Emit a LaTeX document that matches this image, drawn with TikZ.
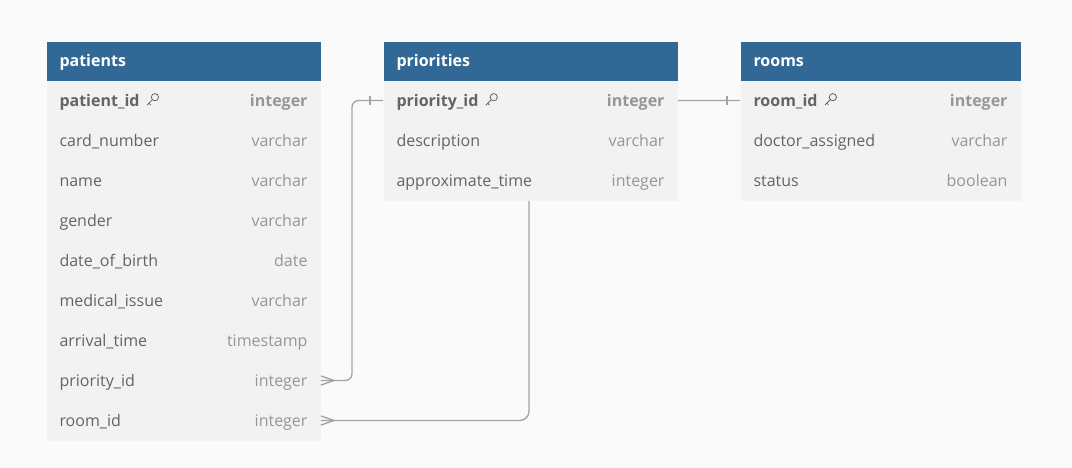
\documentclass[tikz,border=0pt]{standalone}
\usepackage{fontspec}
\setmainfont{Open Sans}
\usetikzlibrary{calc}

\definecolor{hdrblue}{RGB}{50,104,150}
\definecolor{rowgray}{RGB}{242,242,242}
\definecolor{pagegray}{RGB}{250,250,250}
\definecolor{namegray}{RGB}{100,100,100}
\definecolor{typegray}{RGB}{150,150,150}
\definecolor{linkgray}{RGB}{162,162,170}

\tikzset{every picture/.style={line width=0.75pt},
  tblhead/.style={fill=hdrblue, anchor=north west, inner sep=0, minimum height=29.25pt},
  tblrow/.style={fill=rowgray, anchor=north west, inner sep=0, minimum height=30pt},
  hdrtext/.style={anchor=base west, inner sep=0, text=white, font=\bfseries\fontsize{12}{14}\selectfont},
  fname/.style={anchor=base west, inner sep=0, text=namegray, font=\fontsize{12}{14}\selectfont},
  ftype/.style={anchor=base east, inner sep=0, text=typegray, font=\fontsize{12}{14}\selectfont},
  pkname/.style={fname, font=\bfseries\fontsize{12}{14}\selectfont},
  pktype/.style={ftype, font=\bfseries\fontsize{12}{14}\selectfont},
  link/.style={draw=linkgray, line width=1pt},
  keyicon/.pic={\draw[namegray, line width=0.6pt, line cap=round] (2.8,2.8) circle (3.6) (0.3,0.3) -- (-5,-5) (-3.2,-3.2) -- (-1.6,-4.8);}}

\begin{document}
\begin{tikzpicture}[x=0.75pt,y=0.75pt,yscale=-1,xscale=1]
\useasboundingbox[fill=pagegray] (0,0) rectangle (1072,468);

%Table: patients
\node[tblhead, minimum width=205.5pt] (patients) at (46,41) {};
\node[hdrtext] (patients-t) at ($(patients.west)+(13,5.5)$) {patients};
\node[tblrow, minimum width=205.5pt] (pat-1) at (46,80) {};
\node[pkname] (pat-1-n) at ($(pat-1.west)+(13,5.5)$) {patient\_id};
\pic at ($(pat-1-n.base east)+(12,-6)$) {keyicon};
\node[pktype] (pat-1-t) at ($(pat-1.east)+(-13,5.5)$) {integer};
\foreach \n/\t [count=\i from 2] in {card\_number/varchar, name/varchar, gender/varchar, date\_of\_birth/date, medical\_issue/varchar, arrival\_time/timestamp, priority\_id/integer, room\_id/integer}{
  \node[tblrow, minimum width=205.5pt] (pat-\i) at (46,{40+40*\i}) {};
  \node[fname] (pat-\i-n) at ($(pat-\i.west)+(13,5.5)$) {\n};
  \node[ftype] (pat-\i-t) at ($(pat-\i.east)+(-13,5.5)$) {\t};
}

%Table: rooms
\node[tblhead, minimum width=210pt] (rooms) at (740,41) {};
\node[hdrtext] (rooms-t) at ($(rooms.west)+(13,5.5)$) {rooms};
\node[tblrow, minimum width=210pt] (room-1) at (740,80) {};
\node[pkname] (room-1-n) at ($(room-1.west)+(13,5.5)$) {room\_id};
\pic at ($(room-1-n.base east)+(12,-6)$) {keyicon};
\node[pktype] (room-1-t) at ($(room-1.east)+(-13,5.5)$) {integer};
\foreach \n/\t [count=\i from 2] in {doctor\_assigned/varchar, status/boolean}{
  \node[tblrow, minimum width=210pt] (room-\i) at (740,{40+40*\i}) {};
  \node[fname] (room-\i-n) at ($(room-\i.west)+(13,5.5)$) {\n};
  \node[ftype] (room-\i-t) at ($(room-\i.east)+(-13,5.5)$) {\t};
}

%Link: patients.room_id > rooms.room_id (runs under priorities)
\coordinate (roomjog) at (529,0);
\draw[link, rounded corners=7] (pat-9.east) -| (roomjog |- room-1.west) -- (room-1.west);
\draw[link] ($(pat-9.east)+(0,-4.5)$) -- ($(pat-9.east)+(13,0)$) -- ($(pat-9.east)+(0,4.5)$);
\draw[link] ($(room-1.west)+(-13,-4.5)$) -- ++(0,9);

%Table: priorities
\node[tblhead, minimum width=220.5pt] (priorities) at (383,41) {};
\node[hdrtext] (priorities-t) at ($(priorities.west)+(13,5.5)$) {priorities};
\node[tblrow, minimum width=220.5pt] (pri-1) at (383,80) {};
\node[pkname] (pri-1-n) at ($(pri-1.west)+(13,5.5)$) {priority\_id};
\pic at ($(pri-1-n.base east)+(12,-6)$) {keyicon};
\node[pktype] (pri-1-t) at ($(pri-1.east)+(-13,5.5)$) {integer};
\foreach \n/\t [count=\i from 2] in {description/varchar, approximate\_time/integer}{
  \node[tblrow, minimum width=220.5pt] (pri-\i) at (383,{40+40*\i}) {};
  \node[fname] (pri-\i-n) at ($(pri-\i.west)+(13,5.5)$) {\n};
  \node[ftype] (pri-\i-t) at ($(pri-\i.east)+(-13,5.5)$) {\t};
}

%Link: patients.priority_id > priorities.priority_id
\coordinate (priojog) at (352,0);
\draw[link, rounded corners=5] (pri-1.west) -| (priojog |- pat-8.east) -- (pat-8.east);
\draw[link] ($(pat-8.east)+(0,-4.5)$) -- ($(pat-8.east)+(13,0)$) -- ($(pat-8.east)+(0,4.5)$);
\draw[link] ($(pri-1.west)+(-13,-4.5)$) -- ++(0,9);

\end{tikzpicture}
\end{document}
